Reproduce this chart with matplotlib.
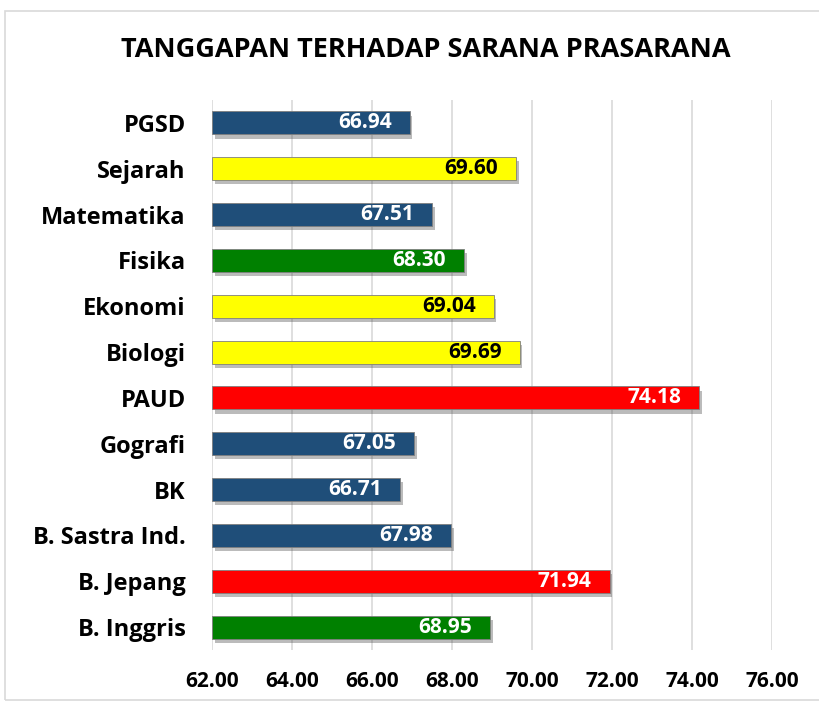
import matplotlib.pyplot as plt
import matplotlib.patheffects as pe
from matplotlib.patches import Rectangle

plt.rcParams['font.family'] = ['Open Sans', 'DejaVu Sans']

# data (top to bottom)
kategori = ["PGSD", "Sejarah", "Matematika", "Fisika", "Ekonomi", "Biologi",
            "PAUD", "Gografi", "BK", "B. Sastra Ind.", "B. Jepang", "B. Inggris"]
nilai = [66.94, 69.60, 67.51, 68.30, 69.04, 69.69,
         74.18, 67.05, 66.71, 67.98, 71.94, 68.95]
warna = ["#1F4E79", "#FFFF00", "#1F4E79", "#008000", "#FFFF00", "#FFFF00",
         "#FF0000", "#1F4E79", "#1F4E79", "#1F4E79", "#FF0000", "#008000"]
warna_teks = ["white", "black", "white", "white", "black", "black",
              "white", "white", "white", "white", "white", "white"]
xticks = [62, 64, 66, 68, 70, 72, 74, 76]

fig = plt.figure(figsize=(8.19, 7.07), dpi=100)
ax = fig.add_axes([0.2589, 0.0806, 0.6837, 0.778])

y = list(range(len(kategori)))
bars = ax.barh(y, [v - 62 for v in nilai], left=62, height=0.5, color=warna,
               edgecolor="#7f7f7f", linewidth=0.6, zorder=3)
for b in bars:
    b.set_path_effects([pe.SimplePatchShadow(offset=(2, -3), shadow_rgbFace="#555555", alpha=0.4),
                        pe.Normal()])

for yi, v, c in zip(y, nilai, warna_teks):
    ax.text(v - 0.45, yi, f"{v:.2f}", ha="right", va="center", color=c,
            fontsize=15, fontweight="bold", zorder=4)

ax.set_xlim(62, 76)
ax.set_ylim(len(kategori) - 0.5, -0.5)
ax.set_xticks(xticks)
ax.set_xticklabels([f"{t:.2f}" for t in xticks], fontsize=15, fontweight="bold")
ax.set_yticks(y)
ax.set_yticklabels(kategori, fontsize=17, fontweight="bold")
ax.tick_params(axis="both", length=0)
ax.tick_params(axis="x", pad=15)
ax.tick_params(axis="y", pad=19)
ax.grid(axis="x", color="#d9d9d9", linewidth=1.2, zorder=0)
for s in ax.spines.values():
    s.set_visible(False)

fig.text(0.52, 0.929, "TANGGAPAN TERHADAP SARANA PRASARANA", ha="center", va="center",
         fontsize=19.5, fontweight="bold")

fig.patches.append(Rectangle((0.006, 0.01), 1.2, 0.975, transform=fig.transFigure,
                             fill=False, edgecolor="#d9d9d9", linewidth=1.2))

fig.savefig("out.png", dpi=100)
